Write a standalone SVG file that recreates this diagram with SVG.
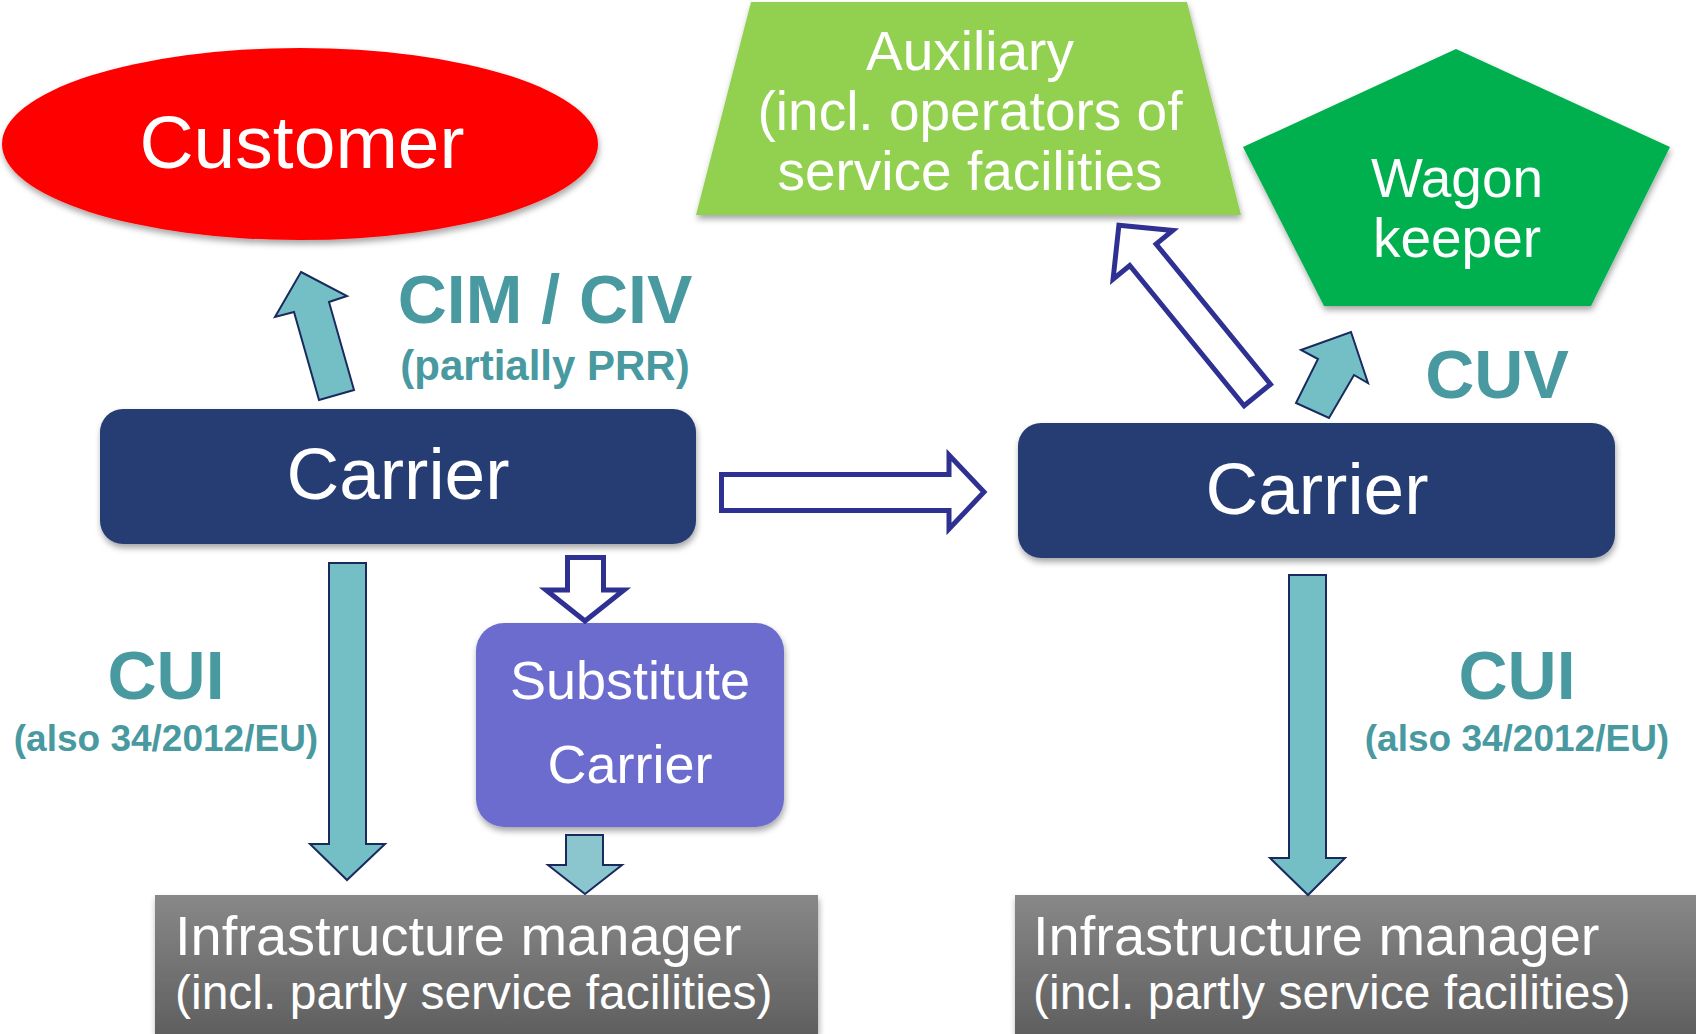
<svg xmlns="http://www.w3.org/2000/svg" width="1696" height="1034" viewBox="0 0 1696 1034">
  <defs>
    <filter id="sh" x="-10%" y="-10%" width="120%" height="130%">
      <feDropShadow dx="1" dy="4" stdDeviation="3" flood-color="#000" flood-opacity="0.35"/>
    </filter>
    <linearGradient id="gray" x1="0" y1="0" x2="0" y2="1">
      <stop offset="0" stop-color="#888888"/>
      <stop offset="1" stop-color="#5f5f5f"/>
    </linearGradient>
  </defs>
  <style>
    text { font-family: "Liberation Sans", Arial, sans-serif; }
    .w { fill: #ffffff; }
    .lbl { fill: #4899a0; font-weight: bold; text-anchor: middle; }
    .c { text-anchor: middle; }
    .teal { fill: #74bfc5; stroke: #1b2a5e; stroke-width: 2; stroke-linejoin: miter; }
    .teal2 { fill: #8bc6ce; stroke: #1b2a5e; stroke-width: 2; }
    .hollow { fill: #ffffff; stroke: #2e3192; stroke-width: 5; stroke-linejoin: miter; }
  </style>

  <g id="customer">
    <ellipse cx="300" cy="144" rx="298" ry="96" fill="#ff0000" filter="url(#sh)"/>
    <text x="302" y="168" font-size="75" class="w c">Customer</text>
  </g>

  <g id="auxiliary">
    <polygon points="751,2 1187,2 1241,215 696,215" fill="#92d050" filter="url(#sh)"/>
    <text x="970" y="70" font-size="55" class="w c">Auxiliary</text>
    <text x="970" y="130" font-size="55" class="w c">(incl. operators of</text>
    <text x="970" y="190" font-size="55" class="w c">service facilities</text>
  </g>

  <g id="wagon-keeper">
    <polygon points="1456,49 1670,147 1591,306 1324,306 1243,147" fill="#00b050" filter="url(#sh)"/>
    <text x="1457" y="197" font-size="55" class="w c">Wagon</text>
    <text x="1457" y="257" font-size="55" class="w c">keeper</text>
  </g>

  <g id="carrier-left">
    <rect x="100" y="409" width="596" height="135" rx="23" fill="#273c73" filter="url(#sh)"/>
    <text x="398" y="499" font-size="73" class="w c">Carrier</text>
  </g>

  <g id="carrier-right">
    <rect x="1018" y="423" width="597" height="135" rx="23" fill="#273c73" filter="url(#sh)"/>
    <text x="1317" y="514" font-size="73" class="w c">Carrier</text>
  </g>

  <g id="substitute-carrier">
    <rect x="476" y="623" width="308" height="204" rx="28" fill="#6c6ccf" filter="url(#sh)"/>
    <text x="630" y="699" font-size="54" class="w c">Substitute</text>
    <text x="630" y="783" font-size="54" class="w c">Carrier</text>
  </g>

  <g id="im-left">
    <rect x="155" y="895" width="663" height="139" fill="url(#gray)" filter="url(#sh)"/>
    <text x="175" y="955" font-size="56" class="w">Infrastructure manager</text>
    <text x="175" y="1009" font-size="48" class="w">(incl. partly service facilities)</text>
  </g>

  <g id="im-right">
    <rect x="1015" y="895" width="681" height="139" fill="url(#gray)" filter="url(#sh)"/>
    <text x="1033" y="955" font-size="56" class="w">Infrastructure manager</text>
    <text x="1033" y="1009" font-size="48" class="w">(incl. partly service facilities)</text>
  </g>

  <g id="connectors">
    <polygon class="teal" points="301,272 347,296 329,302 354,390 319,400 294,312 275,317"/>
    <polygon class="hollow" transform="translate(1117 223) rotate(-39.2)" points="0,3 38.5,41 17,41 17,222 -17,222 -17,41 -38.5,41"/>
    <polygon class="teal" points="1351,332 1368,383 1354,375 1329,418 1296,403 1318,359 1301,350"/>
    <polygon class="hollow" points="721.5,474.5 949,474.5 949,455 984,492 949,529 949,510.5 721.5,510.5"/>
    <polygon class="teal" points="329,563 366,563 366,844 385,844 347,880 310,844 329,844"/>
    <polygon class="hollow" points="567.5,557.5 603.5,557.5 603.5,590 624,590 585,621 546,590 567.5,590"/>
    <polygon class="teal2" points="566,835 603,835 603,865 622,865 585,894 548,865 566,865"/>
    <polygon class="teal" points="1289,575 1326,575 1326,858 1345,858 1308,895 1270,858 1289,858"/>
  </g>

  <g id="labels">
    <text x="545" y="323" font-size="68" class="lbl">CIM / CIV</text>
    <text x="545" y="380" font-size="42" class="lbl">(partially PRR)</text>
    <text x="1497" y="398" font-size="68" class="lbl">CUV</text>
    <text x="166" y="699" font-size="68" class="lbl">CUI</text>
    <text x="166" y="751" font-size="37" class="lbl">(also 34/2012/EU)</text>
    <text x="1517" y="699" font-size="68" class="lbl">CUI</text>
    <text x="1517" y="751" font-size="37" class="lbl">(also 34/2012/EU)</text>
  </g>
</svg>
